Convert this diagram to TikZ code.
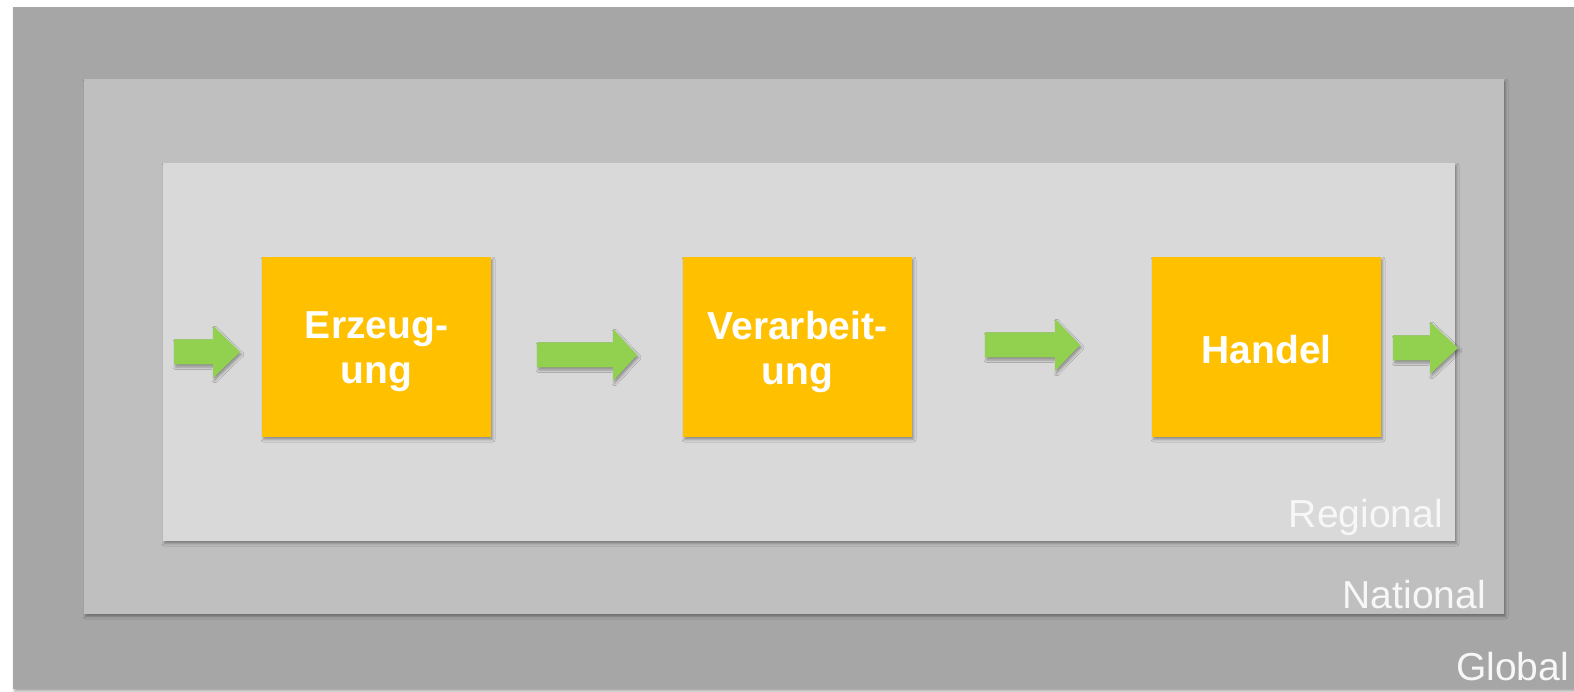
\documentclass[tikz,border=0pt]{standalone}
\usepackage{fontspec}
\setmainfont{Liberation Sans}
\usetikzlibrary{shadows.blur}
\definecolor{globalgray}{HTML}{A6A6A6}
\definecolor{nationalgray}{HTML}{BFBFBF}
\definecolor{regionalgray}{HTML}{D9D9D9}
\definecolor{boxorange}{HTML}{FFC000}
\definecolor{arrowgreen}{HTML}{92D050}
\tikzset{
  shade/.style={blur shadow={shadow xshift=1.5pt, shadow yshift=-2.5pt, shadow blur radius=2.5pt, shadow opacity=35}},
  level/.style={fill=#1, draw=none, shade},
  stagebox/.style={fill=boxorange, draw=none, shade, minimum width=229pt, minimum height=180pt},
  stagetext/.style={text=white, font=\fontsize{39}{45}\selectfont\bfseries, align=center, inner sep=0pt},
  levellabel/.style={text=white!97!black, font=\fontsize{39}{44}\selectfont,
    anchor=base east, inner sep=0pt},
  blockarrow/.style={fill=arrowgreen, draw=none, shade}
}
\newcommand\bkarrow[4]{% x-start, x-headstart, x-tip, y-center
  \fill[blockarrow] (#1,#4-12.5) -- (#2,#4-12.5) -- (#2,#4-26) -- (#3,#4) -- (#2,#4+26) -- (#2,#4+12.5) -- (#1,#4+12.5) -- cycle;}
\begin{document}
\begin{tikzpicture}[x=1pt,y=-1pt]
\useasboundingbox (0,0) rectangle (1574,692);
% levels
\fill[level=globalgray] (13,7) rectangle (1576,689);
\fill[level=nationalgray] (84,79) rectangle (1504,614);
\fill[level=regionalgray] (163,163) rectangle (1455,541);
\node[levellabel] (glob) at (1569,680) {Global};
\node[levellabel] (nat) at (1486,608) {National};
\node[levellabel] (reg) at (1443,527) {Regional};
% stage boxes
\node[stagebox] (erz) at (376.5,347) {};
\node[stagebox] (ver) at (797.5,347) {};
\node[stagebox] (han) at (1266.5,347) {};
\node[stagetext] (erzt) at ([yshift=-5pt]erz.center) {Erzeug-\\ung};
\node[stagetext] (vert) at ([yshift=-5pt]ver.center) {Verarbeit-\\ung};
\node[stagetext] (hant) at ([yshift=-3pt]han.center) {Handel};
% arrows
\bkarrow{174}{213}{240}{352}
\bkarrow{537}{613}{637}{355}
\bkarrow{985}{1055}{1080}{345}
\bkarrow{1393}{1430}{1458}{348}
\end{tikzpicture}
\end{document}
